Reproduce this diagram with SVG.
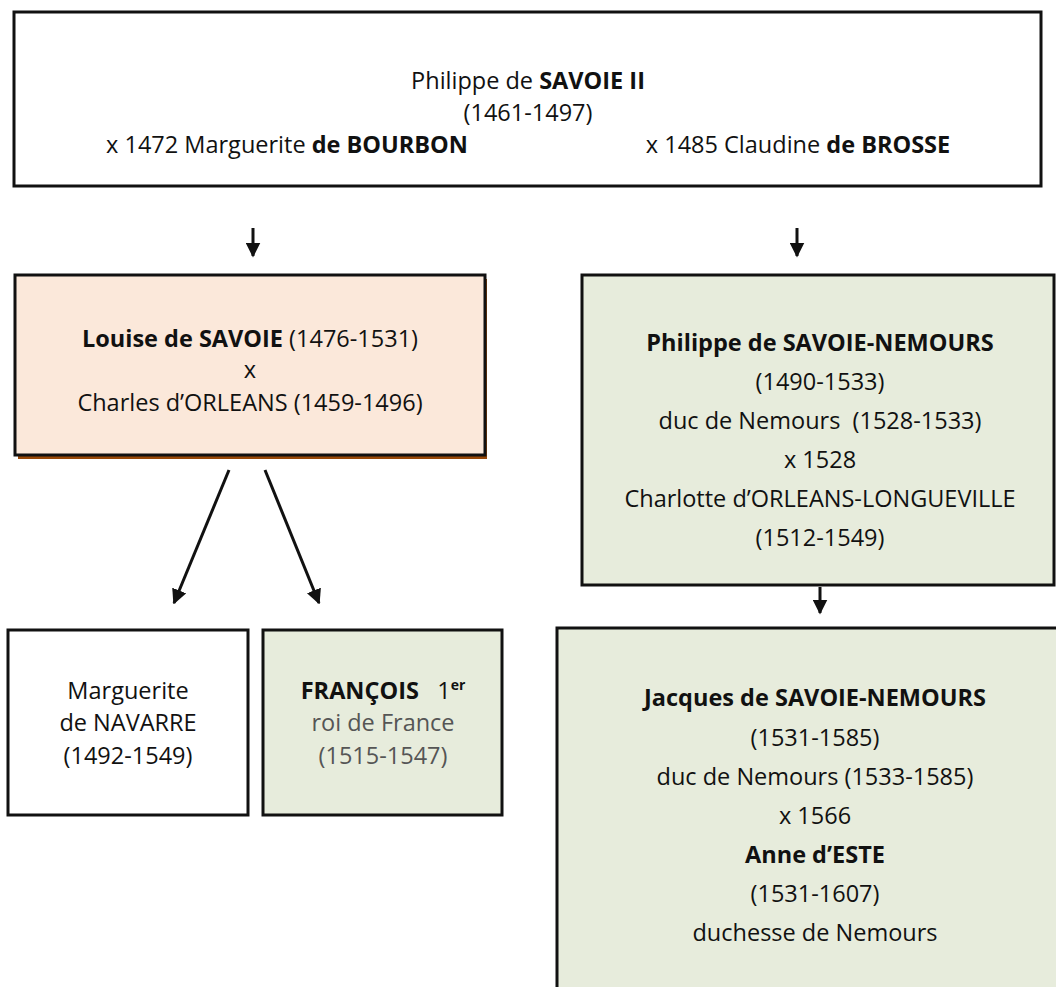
<svg xmlns="http://www.w3.org/2000/svg" width="1056" height="987" viewBox="0 0 1056 987">
<defs>
<style>
.box{stroke:#111;stroke-width:3}
.w{fill:#fff}
.g{fill:#E7ECDC}
.p{fill:#FBE8DA}
text{font-family:"Open Sans","Liberation Sans",sans-serif;font-size:23.5px;fill:#111;text-anchor:middle}
.b{font-weight:bold}
.gr{fill:#555}
.conn{stroke:#111;stroke-width:3;fill:none;marker-end:url(#ah)}
</style>
<marker id="ah" viewBox="0 0 10 10" refX="9" refY="5" markerWidth="5" markerHeight="5" orient="auto" markerUnits="strokeWidth">
<path d="M0,0 L10,5 L0,10 z" fill="#111"/>
</marker>
</defs>
<rect width="1056" height="987" fill="#fff"/>
<g id="n-philippe">
<rect class="box w" x="14" y="12" width="1027" height="174"/>
<text x="528" y="89">Philippe de <tspan class="b">SAVOIE II</tspan></text>
<text x="528" y="121">(1461-1497)</text>
<text x="287" y="153">x 1472 Marguerite <tspan class="b">de BOURBON</tspan></text>
<text x="798" y="153">x 1485 Claudine <tspan class="b">de BROSSE</tspan></text>
</g>
<g id="n-louise">
<rect x="18" y="279" width="469" height="180" fill="#984807"/>
<rect class="box p" x="15" y="275" width="470" height="180"/>
<text x="250" y="347"><tspan class="b">Louise de SAVOIE</tspan> (1476-1531)</text>
<text x="250" y="378">x</text>
<text x="250" y="411">Charles d’ORLEANS (1459-1496)</text>
</g>
<g id="n-philippe-nemours">
<rect class="box g" x="582" y="275" width="472" height="310"/>
<text x="820" y="351" class="b">Philippe de SAVOIE-NEMOURS</text>
<text x="820" y="390">(1490-1533)</text>
<text x="820" y="429" xml:space="preserve">duc de Nemours  (1528-1533)</text>
<text x="820" y="468">x 1528</text>
<text x="820" y="507">Charlotte d’ORLEANS-LONGUEVILLE</text>
<text x="820" y="546">(1512-1549)</text>
</g>
<g id="n-marguerite">
<rect class="box w" x="8" y="630" width="240" height="185"/>
<text x="128" y="699">Marguerite</text>
<text x="128" y="731">de NAVARRE</text>
<text x="128" y="764">(1492-1549)</text>
</g>
<g id="n-francois">
<rect class="box g" x="263" y="630" width="239" height="185"/>
<text x="383" y="699" xml:space="preserve"><tspan class="b">FRANÇOIS</tspan>   1<tspan class="b" font-size="14" dy="-9">er</tspan></text>
<text x="383" y="731" class="gr">roi de France</text>
<text x="383" y="764" class="gr">(1515-1547)</text>
</g>
<g id="n-jacques">
<rect class="box g" x="557" y="628" width="502" height="365"/>
<text x="815" y="706" class="b">Jacques de SAVOIE-NEMOURS</text>
<text x="815" y="746">(1531-1585)</text>
<text x="815" y="785">duc de Nemours (1533-1585)</text>
<text x="815" y="824">x 1566</text>
<text x="815" y="863" class="b">Anne d’ESTE</text>
<text x="815" y="902">(1531-1607)</text>
<text x="815" y="941">duchesse de Nemours</text>
</g>
<g id="connectors">
<line class="conn" x1="253" y1="228" x2="253" y2="256"/>
<line class="conn" x1="797" y1="228" x2="797" y2="256"/>
<line class="conn" x1="229" y1="470" x2="174" y2="603"/>
<line class="conn" x1="265" y1="470" x2="319" y2="603"/>
<line class="conn" x1="820" y1="587" x2="820" y2="613"/>
</g>
</svg>
